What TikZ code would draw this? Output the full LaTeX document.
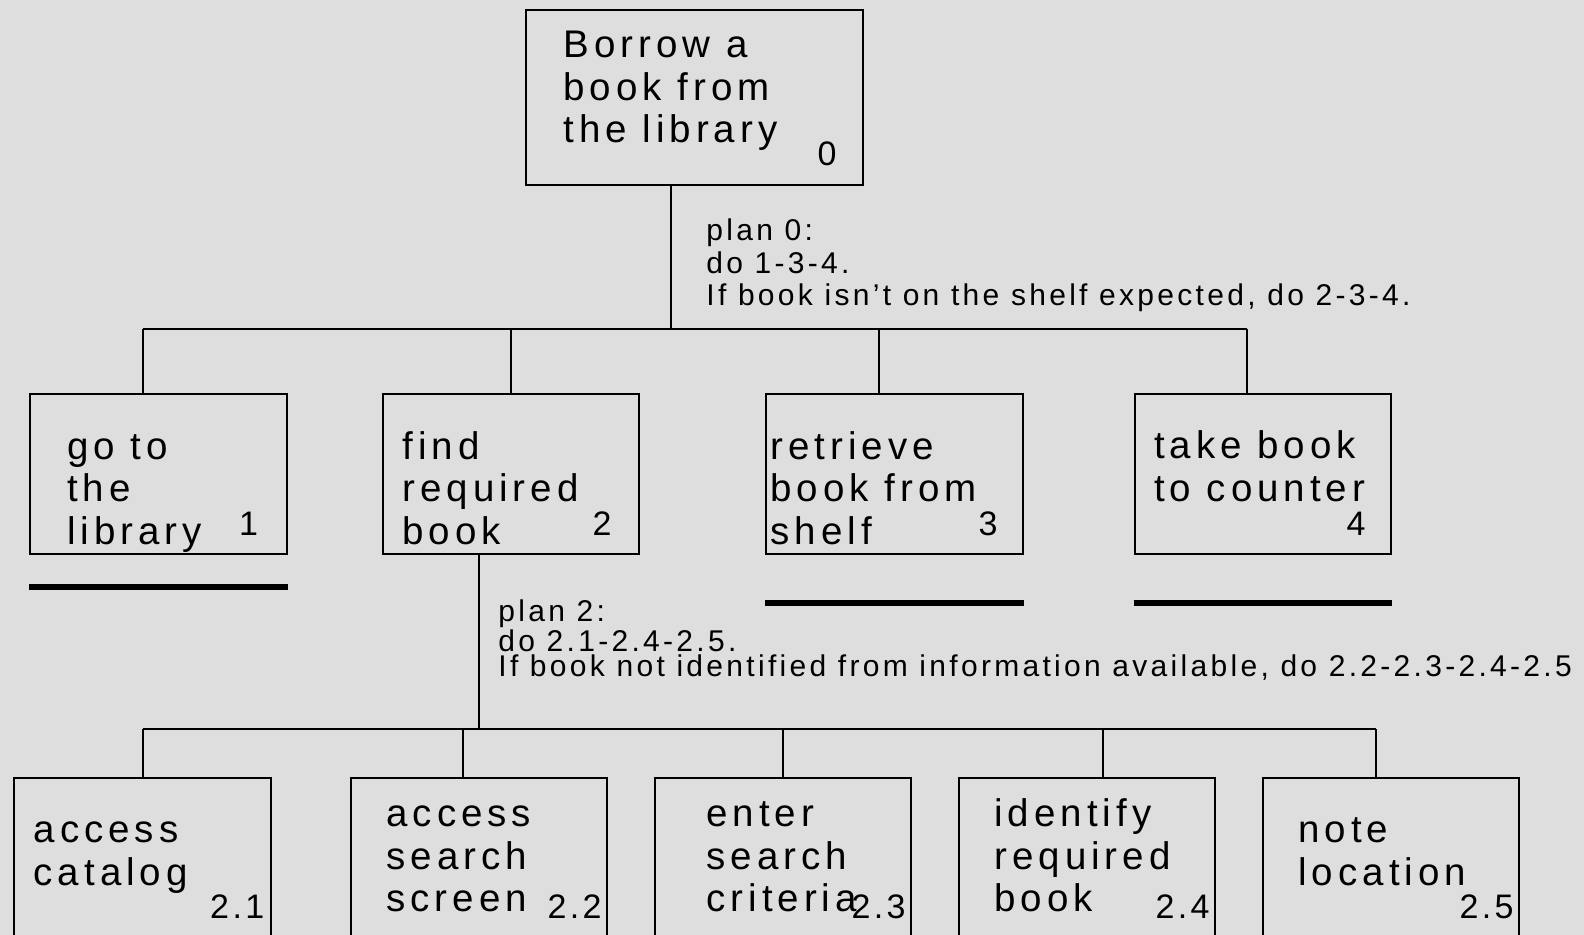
\documentclass[tikz,border=0pt]{standalone}
\usepackage{fontspec}
\usepackage{xcolor}
\newfontfamily\taskfont[LetterSpace=13]{Liberation Sans}
\newfontfamily\numfont[LetterSpace=10]{Liberation Sans}
\newfontfamily\planfont[LetterSpace=11]{Liberation Sans}
\usetikzlibrary{positioning}
\definecolor{canvas}{HTML}{DEDEDE}
\tikzset{
  task/.style={
    draw, line width=1pt, inner sep=0pt,
    minimum width=128.25pt, minimum height=80pt
  },
  % anchored on the baseline of the last line
  tasktext/.style={anchor=base west, align=left, inner sep=0pt,
    font=\taskfont\fontsize{19.25}{21.25}\selectfont},
  tasknum/.style={anchor=base east, inner sep=0pt,
    font=\numfont\fontsize{17}{17}\selectfont},
  plantext/.style={anchor=base west, align=left, inner sep=0pt},
  link/.style={line width=1pt},
  stopline/.style={line width=3pt},
}

\begin{document}
\begin{tikzpicture}[x=0.5pt, y=-0.5pt]
  \useasboundingbox[fill=canvas] (0,0) rectangle (1584,935);
  \clip (0,0) rectangle (1584,935);

  % top goal
  \node[task, minimum width=168.5pt, minimum height=87.5pt] (t0) at (694.5,97.5) {};
  \node[tasktext] (t0txt) at (563,143) {Borrow a\\book from\\the library};
  \node[tasknum]  (t0num) at (837,166) {0};

  % level 1
  \node[task] (t1) at (158.6,474) {};
  \node[task] (t2) at (510.8,474) {};
  \node[task] (t3) at (894.5,474) {};
  \node[task] (t4) at (1262.8,474) {};
  \node[tasktext] (t1txt) at (66.7,544)   {go to\\the\\library};
  \node[tasktext] (t2txt) at (402,544)    {find\\required\\book};
  \node[tasktext] (t3txt) at (770,544)    {retrieve\\book from\\shelf};
  \node[tasktext] (t4txt) at (1153.6,501) {take book\\to counter};
  \node[tasknum] (t1num) at (258.5,535) {1};
  \node[tasknum] (t2num) at (612,535)   {2};
  \node[tasknum] (t3num) at (998,535)   {3};
  \node[tasknum] (t4num) at (1366,535)  {4};

  % level 2
  \node[task, minimum height=100pt] (s1) at (142.4,878) {};
  \node[task, minimum height=100pt] (s2) at (478.8,878) {};
  \node[task, minimum height=100pt] (s3) at (782.8,878) {};
  \node[task, minimum height=100pt] (s4) at (1087,878) {};
  \node[task, minimum height=100pt] (s5) at (1391.1,878) {};
  \node[tasktext] (s1txt) at (33.3,885)  {access\\catalog};
  \node[tasktext] (s2txt) at (386,911.5) {access\\search\\screen};
  \node[tasktext] (s3txt) at (706,911.5) {enter\\search\\criteria};
  \node[tasktext] (s4txt) at (994,911.5) {identify\\required\\book};
  \node[tasktext] (s5txt) at (1298,885)  {note\\location};
  \node[tasknum] (s1num) at (264.7,918) {2.1};
  \node[tasknum] (s2num) at (602,918)   {2.2};
  \node[tasknum] (s3num) at (906,918)   {2.3};
  \node[tasknum] (s4num) at (1210,918)  {2.4};
  \node[tasknum] (s5num) at (1514,918)  {2.5};

  % plans
  \node[plantext, font=\planfont\fontsize{15}{16.25}\selectfont] (plan0) at (706,306)
    {plan 0:\\do 1-3-4.\\If book isn’t on the shelf expected, do 2-3-4.};
  \node[plantext, font=\planfont\fontsize{15}{12.5}\selectfont] (plan2) at (498,676.7)
    {plan 2:\\do 2.1-2.4-2.5.\\If book not identified from information available, do 2.2-2.3-2.4-2.5};

  % tree lines
  \coordinate (j0) at (671,329);
  \coordinate (d1) at (142.5,329);
  \coordinate (d2) at (511,329);
  \coordinate (d3) at (879,329);
  \coordinate (d4) at (1246.6,329);
  \draw[link] (j0 |- t0.south) -- (j0);
  \draw[link] (d1) -- (d4);
  \draw[link] (d1) -- (d1 |- t1.north);
  \draw[link] (d2) -- (d2 |- t2.north);
  \draw[link] (d3) -- (d3 |- t3.north);
  \draw[link] (d4) -- (d4 |- t4.north);

  \coordinate (j2) at (479,729.4);
  \coordinate (e1) at (142.5,729.4);
  \coordinate (e2) at (462.7,729.4);
  \coordinate (e3) at (783,729.4);
  \coordinate (e4) at (1103,729.4);
  \coordinate (e5) at (1375.5,729.4);
  \draw[link] (j2 |- t2.south) -- (j2);
  \draw[link] (e1) -- (e5);
  \draw[link] (e1) -- (e1 |- s1.north);
  \draw[link] (e2) -- (e2 |- s2.north);
  \draw[link] (e3) -- (e3 |- s3.north);
  \draw[link] (e4) -- (e4 |- s4.north);
  \draw[link] (e5) -- (e5 |- s5.north);

  % stop marks
  \draw[stopline] ([yshift=-16pt]t1.south west) -- ([yshift=-16pt]t1.south east);
  \draw[stopline] ([yshift=-24pt]t3.south west) -- ([yshift=-24pt]t3.south east);
  \draw[stopline] ([yshift=-24pt]t4.south west) -- ([yshift=-24pt]t4.south east);
\end{tikzpicture}
\end{document}
